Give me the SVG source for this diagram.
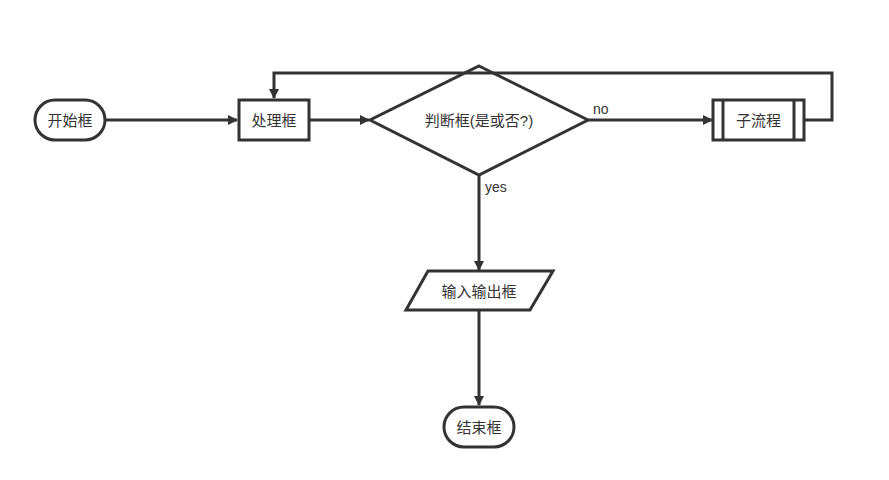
<svg xmlns="http://www.w3.org/2000/svg" width="889" height="480" viewBox="0 0 889 480">
<style>
.s{fill:#fff;stroke:#333;stroke-width:3}
.c{fill:none;stroke:#333;stroke-width:3}
.t{font-family:"Liberation Sans","Noto Sans CJK SC",sans-serif;font-size:15px;fill:#333;text-anchor:middle;dominant-baseline:central}
.l{font-family:"Liberation Sans","Noto Sans CJK SC",sans-serif;font-size:14px;fill:#333}
</style>
<defs>
<marker id="a" markerWidth="10" markerHeight="10" refX="9" refY="5" orient="auto" markerUnits="userSpaceOnUse">
<path d="M0,0 L10,5 L0,10 Z" fill="#333"/>
</marker>
</defs>
<rect width="889" height="480" fill="#fff"/>
<g id="start">
<rect class="s" x="35" y="100" width="70" height="40" rx="20"/>
<text class="t" x="70" y="120">开始框</text>
</g>
<g id="process">
<rect class="s" x="239" y="100" width="70" height="40"/>
<text class="t" x="274" y="120">处理框</text>
</g>
<g id="decision">
<polygon class="s" points="479,66 588,120 479,175 370,120"/>
<text class="t" x="479" y="120">判断框(是或否?)</text>
</g>
<g id="subprocess">
<rect class="s" x="713" y="100" width="91" height="40"/>
<line class="c" x1="723" y1="100" x2="723" y2="140"/>
<line class="c" x1="794" y1="100" x2="794" y2="140"/>
<text class="t" x="758.500" y="120">子流程</text>
</g>
<g id="io">
<polygon class="s" points="428,271 553,271 530,310 406,310"/>
<text class="t" x="479" y="291">输入输出框</text>
</g>
<g id="end">
<rect class="s" x="444" y="407" width="70" height="40" rx="20"/>
<text class="t" x="479" y="427">结束框</text>
</g>
<g id="connectors">
<path class="c" d="M105,120 H237" marker-end="url(#a)"/>
<path class="c" d="M309,120 H369" marker-end="url(#a)"/>
<path class="c" d="M588,120 H712" marker-end="url(#a)"/>
<path class="c" d="M804,120 H832 V73 H274 V98" marker-end="url(#a)"/>
<path class="c" d="M479,175 V270" marker-end="url(#a)"/>
<path class="c" d="M479,310 V405" marker-end="url(#a)"/>
<text class="l" x="593" y="114">no</text>
<text class="l" x="485" y="192">yes</text>
</g>
</svg>
